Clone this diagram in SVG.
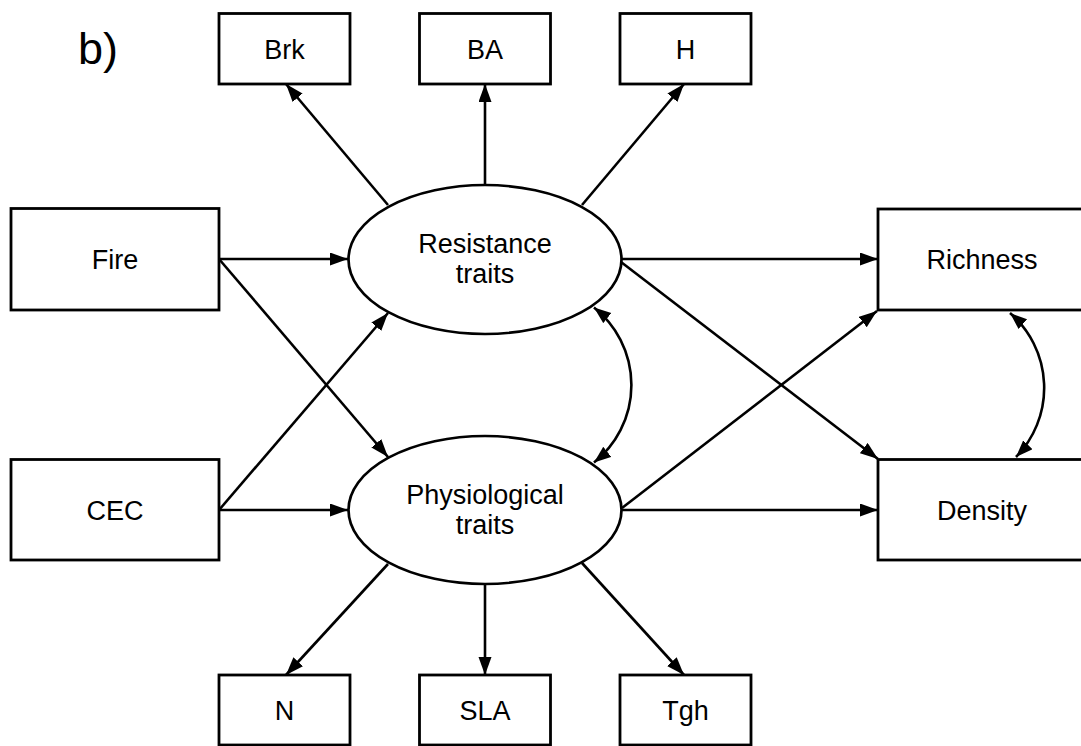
<svg xmlns="http://www.w3.org/2000/svg" width="1081" height="746" viewBox="0 0 1081 746">
  <style>
    .box { fill: #fff; stroke: #000; stroke-width: 2.8; }
    .lat { fill: #fff; stroke: #000; stroke-width: 2.7; }
    .lbl { font-family: "Liberation Sans", Arial, sans-serif; font-size: 27px; fill: #000; text-anchor: middle; }
    .path { fill: none; stroke: #000; stroke-width: 2.6; marker-end: url(#head); }
    .cov { fill: none; stroke: #000; stroke-width: 2.6; marker-start: url(#head2); marker-end: url(#head2); }
  </style>
  <defs>
    <marker id="head" markerUnits="userSpaceOnUse" markerWidth="18" markerHeight="14" refX="18" refY="6.5" orient="auto">
      <path d="M0,0 L18,6.5 L0,13 z" fill="#000"/>
    </marker>
    <marker id="head2" markerUnits="userSpaceOnUse" markerWidth="18" markerHeight="14" refX="17" refY="6.5" orient="auto-start-reverse">
      <path d="M0,0 L17,6.5 L0,13 z" fill="#000"/>
    </marker>
  </defs>

  <rect width="1081" height="746" fill="#fff"/>

  <text x="78" y="63.5" font-family="Liberation Sans, Arial, sans-serif" font-size="45">b)</text>

  <!-- path arrows -->
  <g id="connectors">
    <path class="path" d="M388,205 L286,84"/>
    <path class="path" d="M485,185 L485,84"/>
    <path class="path" d="M582,205 L684,84"/>
    <path class="path" d="M219,259 L348,259"/>
    <path class="path" d="M219,259 L388,457"/>
    <path class="path" d="M219,510 L388,313"/>
    <path class="path" d="M219,510 L348,510"/>
    <path class="path" d="M621,259 L878,259"/>
    <path class="path" d="M621,262 L878,459"/>
    <path class="path" d="M622,508 L877,311"/>
    <path class="path" d="M622,510 L878,510"/>
    <path class="path" d="M388,564 L286,675"/>
    <path class="path" d="M485,584 L485,675"/>
    <path class="path" d="M582,563 L684,675"/>
    <!-- covariances -->
    <path class="cov" d="M594,307.5 A99,99 0 0 1 594,462.5"/>
    <path class="cov" d="M1010,313 A99,99 0 0 1 1016,457"/>
  </g>

  <!-- indicator boxes -->
  <g id="node-brk"><rect class="box" x="219" y="13.5" width="131" height="70.5"/><text class="lbl" x="284.5" y="58.5">Brk</text></g>
  <g id="node-ba"><rect class="box" x="419.5" y="13.5" width="131" height="70.5"/><text class="lbl" x="485" y="58.5">BA</text></g>
  <g id="node-h"><rect class="box" x="620" y="13.5" width="131" height="70.5"/><text class="lbl" x="685.5" y="58.5">H</text></g>

  <g id="node-n"><rect class="box" x="219" y="675" width="131" height="70"/><text class="lbl" x="284.5" y="719.5">N</text></g>
  <g id="node-sla"><rect class="box" x="419.5" y="675" width="131" height="70"/><text class="lbl" x="485" y="719.5">SLA</text></g>
  <g id="node-tgh"><rect class="box" x="620" y="675" width="131" height="70"/><text class="lbl" x="685.5" y="719.5">Tgh</text></g>

  <!-- predictors -->
  <g id="node-fire"><rect class="box" x="11" y="208.5" width="208" height="101.5"/><text class="lbl" x="115" y="269">Fire</text></g>
  <g id="node-cec"><rect class="box" x="11" y="459.5" width="208" height="100.5"/><text class="lbl" x="115" y="520">CEC</text></g>

  <!-- responses -->
  <g id="node-richness"><rect class="box" x="878" y="209" width="208" height="101"/><text class="lbl" x="982" y="269">Richness</text></g>
  <g id="node-density"><rect class="box" x="878" y="459.5" width="208" height="100.5"/><text class="lbl" x="982" y="520">Density</text></g>

  <!-- latent variables -->
  <g id="node-resistance">
    <ellipse class="lat" cx="485" cy="259.5" rx="136.5" ry="74.5"/>
    <text class="lbl" x="485" y="253">Resistance</text>
    <text class="lbl" x="485" y="283">traits</text>
  </g>
  <g id="node-physiological">
    <ellipse class="lat" cx="485" cy="510" rx="136.5" ry="74"/>
    <text class="lbl" x="485" y="503.5">Physiological</text>
    <text class="lbl" x="485" y="533.5">traits</text>
  </g>
</svg>
